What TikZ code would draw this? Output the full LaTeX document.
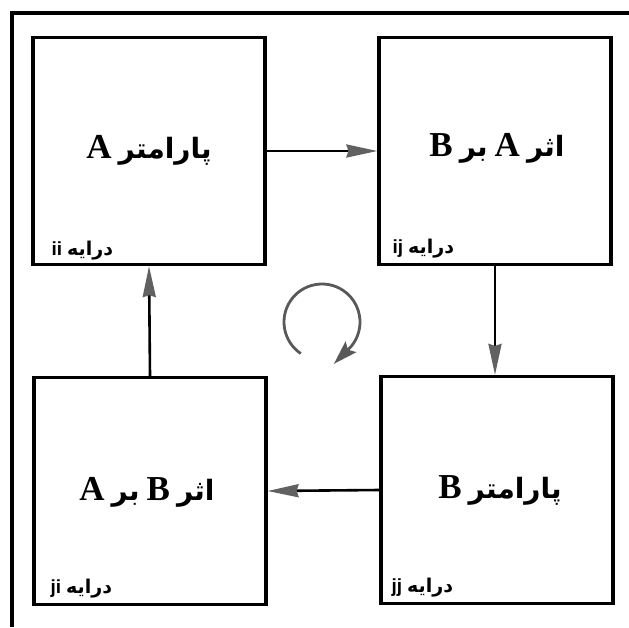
\documentclass[tikz,border=0pt]{standalone}
\usepackage{fontspec}
\setmainfont{Liberation Serif}
\newfontfamily\farsi[Script=Arabic]{DejaVu Sans}
\newfontfamily\lsans{Liberation Sans}
\TeXXeTstate=1
\usetikzlibrary{arrows.meta,calc}
\newcommand{\fa}[1]{{\farsi\bfseries\beginR #1\endR}}
\newcommand{\bigtxt}[2]{{\fontsize{#1}{#1}\selectfont #2}}
\newcommand{\gap}{\hspace{7pt}}
\begin{document}
\begin{tikzpicture}[x=1pt,y=-1pt,
  panel/.style={draw, line width=3.2pt, minimum width=232pt, minimum height=227pt, inner sep=0pt, align=center},
  maintext/.style={font=\fontsize{35}{35}\selectfont\bfseries},
  tag/.style={anchor=base west, inner sep=0pt, font=\fontsize{19}{19}\selectfont},
  link/.style={line width=2.6pt, -{Stealth[length=31pt,width=13pt,inset=2pt,color=black!62]}},
  turn/.style={line width=2.8pt, draw=black!65, -{Stealth[length=24pt,width=15pt,inset=4pt,color=black!65]}},
  frame/.style={line width=3.2pt}]
\useasboundingbox (0,0) rectangle (629,627);
% outer frame (open at right and bottom)
\coordinate (f1) at (12,627);
\coordinate (f2) at (12,13);
\coordinate (f3) at (629,13);
\draw[frame] (f1) -- (f2) -- (f3);
% panels
\node[panel] (tl) at (149,151) {};
\node[panel] (tr) at (495,151) {};
\node[panel] (bl) at (150,491) {};
\node[panel] (br) at (497,490) {};
% main texts (visual left-to-right order)
\node[maintext] (tlt) at (149,150) {A\gap\bigtxt{28}{\fa{پارامتر}}};
\node[maintext] (trt) at (497,148) {B\gap\bigtxt{28}{\fa{بر}}\gap A\gap\bigtxt{28}{\fa{اثر}}};
\node[maintext] (blt) at (147,492) {A\gap\bigtxt{28}{\fa{بر}}\gap B\gap\bigtxt{28}{\fa{اثر}}};
\node[maintext] (brt) at (500,490) {B\gap\bigtxt{28}{\fa{پارامتر}}};
% small tags
\node[tag] (tlg) at ($(tl.south west)+(20,-11)$) {{\lsans\bfseries ii}\hspace{5pt}\fa{\fontsize{19}{19}\selectfont درایه}};
\node[tag] (trg) at ($(tr.south west)+(15,-13)$) {{\lsans\bfseries ij}\hspace{5pt}\fa{\fontsize{19}{19}\selectfont درایه}};
\node[tag] (blg) at ($(bl.south west)+(18,-13)$) {{\lsans\bfseries ji}\hspace{5pt}\fa{\fontsize{19}{19}\selectfont درایه}};
\node[tag] (brg) at ($(br.south west)+(12,-13)$) {{\lsans\bfseries jj}\hspace{5pt}\fa{\fontsize{19}{19}\selectfont درایه}};
% connectors
\draw[link] (tl.east) -- (tr.west);
\draw[link] (tr.south -| 495,0) -- (br.north -| 495,0);
\draw[link] (br.west) -- (bl.east);
\draw[link] (bl.north) -- (tl.south);
% circular arrow
\coordinate (cyc) at (322,322);
\draw[turn] ($(cyc)+(124:38)$) arc[start angle=124, end angle=405, radius=38] -- ++(-15,15);
\end{tikzpicture}
\end{document}
